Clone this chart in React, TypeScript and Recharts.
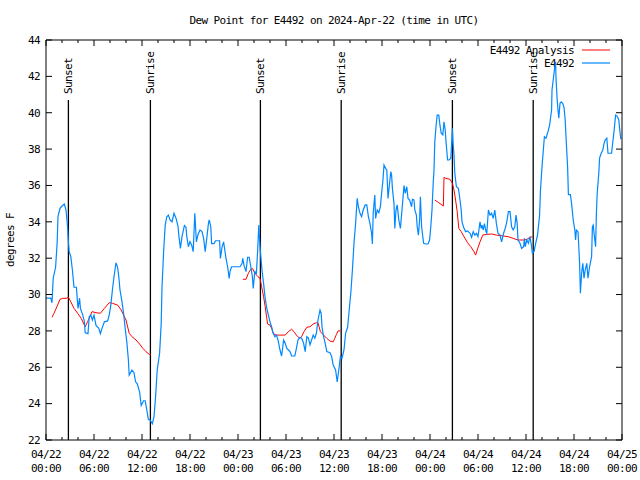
import { LineChart, Line, XAxis, YAxis, ReferenceLine, Label, Customized } from 'recharts'

// hours since 2024-04-22 00:00 UTC, dew point in °F
const stationHours = [
  0, 0.2, 0.6, 0.75, 0.9, 1.2, 1.4, 1.5, 1.75, 2, 2.3, 2.5, 2.7, 2.8, 2.9, 3.1, 3.3, 3.5, 3.8, 4, 4.2, 4.3, 4.6, 4.8, 4.9,
  5.25, 5.4, 5.6, 5.8, 6, 6.25, 6.6, 6.8, 7, 7.3, 7.7, 7.9, 8.1, 8.3, 8.5, 8.75, 8.95, 9.1, 9.25, 9.5, 9.7, 9.9, 10.1,
  10.3, 10.4, 10.75, 11, 11.2, 11.4, 11.7, 11.9, 12.2, 12.4, 12.6, 12.8, 13, 13.3, 13.5, 13.7, 13.9, 14.2, 14.4, 14.5,
  14.6, 14.7, 14.9, 15.1, 15.3, 15.5, 15.75, 16, 16.25, 16.5, 16.6, 16.8, 17, 17.3, 17.5, 17.6, 17.8,
  18, 18.2, 18.4, 18.6, 18.8, 19, 19.25, 19.5, 19.7, 19.9, 20.1, 20.3, 20.4, 20.6, 20.7, 21, 21.2, 21.7, 21.8, 22, 22.2,
  22.3, 22.5, 22.7, 22.9, 23, 23.2, 24.25, 24.5, 24.6, 24.75, 25, 25.2, 25.4, 25.6, 25.8, 25.9, 26.1, 26.3, 26.45, 26.6,
  26.7, 26.8, 27, 27.2, 27.4, 27.6, 27.8, 28, 28.2, 28.4, 28.6, 28.8, 29, 29.25, 29.45, 29.7, 29.9, 30.1, 30.3, 30.5,
  30.7, 31.1, 31.3, 31.5, 31.75, 31.95, 32.2, 32.4, 32.6, 32.8, 33, 33.2, 33.4, 33.6, 33.8, 34, 34.25, 34.4, 34.5, 34.7,
  34.9, 35.1, 35.5, 35.7, 35.9, 36.2, 36.4, 36.6, 36.8, 37, 37.25, 37.45, 37.7, 37.9, 38.1, 38.3, 38.5, 38.7, 38.9,
  39.05, 39.25, 39.45, 39.65, 39.9, 40.1, 40.3, 40.5, 40.7, 40.8, 40.9, 41.1, 41.2, 41.4, 41.6, 41.8, 41.95, 42.1,
  42.25, 42.45, 42.6, 42.75, 42.9, 43.1, 43.2, 43.3, 43.5, 43.6, 43.75, 43.9, 44.1, 44.3, 44.5, 44.75, 44.9, 45.1,
  45.25, 45.45, 45.7, 45.8, 46, 46.1, 46.3, 46.4, 46.55, 46.7, 46.8, 46.95, 47.2, 47.45, 47.75, 47.95, 48.1, 48.25,
  48.4, 48.5, 48.6, 48.75, 48.9, 49.1, 49.25, 49.4, 49.6, 49.75, 49.9, 50, 50.2, 50.4, 50.6, 50.7, 50.8, 50.9, 51,
  51.1, 51.3, 51.55, 51.7, 51.9, 52, 52.25, 52.45, 52.7, 53, 53.2, 53.4, 53.6, 53.8, 54, 54.25, 54.4, 54.5, 54.65,
  54.8, 55, 55.1, 55.3, 55.5, 55.7, 55.9, 56.1, 56.3, 56.5, 56.75, 56.95, 57.2, 57.4, 57.6, 57.8, 58, 58.2, 58.4,
  58.6, 58.75, 58.9, 59, 59.25, 59.45, 59.7, 59.8, 59.9, 60.1, 60.3, 60.5, 60.7, 60.8, 61, 61.25, 61.45, 61.7, 61.8,
  62, 62.2, 62.3, 62.5, 62.75, 62.95, 63.2, 63.25, 63.4, 63.6, 63.7, 63.75, 63.9, 64, 64.1, 64.25, 64.4, 64.6, 64.75,
  64.9, 65, 65.2, 65.3, 65.55, 65.7, 65.9, 66.1, 66.2, 66.3, 66.5, 66.6, 66.7, 66.8, 66.95, 67.1, 67.25, 67.4, 67.6,
  67.75, 67.95, 68.2, 68.3, 68.4, 68.55, 68.7, 68.8, 68.9, 69.1, 69.2, 69.4, 69.6, 69.75, 69.9, 70.1, 70.25, 70.7,
  70.8, 71, 71.2, 71.4, 71.6, 71.7, 71.85,
]
const stationDewF = [
  29.8, 29.8, 29.8, 29.55, 30.9, 31.5, 32.9, 34.3, 34.74, 34.87, 34.98, 34.65, 33.7, 32.9, 32.35, 32.1, 31.35, 30.4, 30.4, 29.24, 29.8, 29.24, 28.87, 28.5, 27.9,
  27.85, 28.78, 28.87, 28.6, 28.87, 28.3, 28.14, 27.85, 28.14, 28.5, 28.55, 28.87, 29.4, 30.25, 30.98, 31.75, 31.5, 30.98, 30.25, 29.6, 28.96, 28.14, 27.4,
  26.4, 25.57, 25.85, 25.7, 25.2, 25.1, 24.65, 23.9, 24.16, 24.16, 23.65, 23.13, 23.1, 22.9, 23.28, 24.4, 25.85, 26.77, 28.4, 30.4,
  31.35, 32.35, 33.82, 34.28, 34.37, 34.1, 34.0, 34.47, 34.2, 33.77, 33.27, 32.54, 33.18, 33.8, 33.7, 33.2, 32.63,
  32.91, 32.73, 32.36, 34.47, 32.9, 33.3, 33.55, 33.46, 33.1, 32.36, 33.1, 33.9, 34.1, 33.73, 32.8, 32.8, 32.96, 32.96, 31.99, 32.6, 32.9,
  32.6, 31.99, 31.53, 30.89, 31.26, 31.53, 31.53, 31.7, 31.99, 31.6, 31.26, 32.05, 32.05, 31.53, 30.98, 30.34, 31.26, 31.17, 32.36, 33.82,
  33.0, 32.36, 31.35, 30.6, 29.79, 29.24, 28.87, 28.5, 28.23, 27.87, 27.68, 27.77, 27.5, 26.95, 26.62, 27.5, 27.32, 27.04, 26.95, 26.86,
  26.62, 26.62, 27.04, 27.5, 27.65, 27.6, 27.32, 26.86, 27.68, 27.6, 27.23, 27.5, 27.77, 27.6, 27.87, 28.6, 29.15, 28.96, 28.23, 27.68,
  27.32, 26.86, 26.8, 26.6, 26.12, 25.85, 25.2, 25.85, 26.6, 26.5, 26.95, 27.87, 28.2, 29.15, 30.07, 31.35, 32.82, 33.9, 35.29,
  34.83, 34.47, 34.28, 34.65, 34.93, 34.93, 34.28, 33.9, 33.37, 32.78, 34.47, 35.47, 34.19, 34.65, 34.5, 34.83, 35.57, 36.2,
  37.12, 36.94, 36.85, 35.29, 35.93, 36.76, 36.57, 35.84, 35.0, 33.64, 34.65, 34.93, 34.1, 33.64, 34.65, 36.0, 35.57, 35.93,
  35.29, 35.2, 34.83, 35.24, 35.2, 34.65, 34.37, 33.73, 33.27, 34.1, 35.38, 33.73, 32.82, 32.78, 32.78, 33.0, 33.73, 34.65,
  36.12, 36.85, 38.41, 39.23, 39.87, 39.87, 39.3, 38.87, 38.78, 39.5, 39.05, 38.41, 37.4, 37.4, 37.5, 38.3, 39.14, 38.22, 37.67,
  36.67, 35.93, 35.84, 35.38, 34.65, 34.0, 33.64, 33.46, 33.5, 33.37, 33.15, 33.46, 33.27, 33.37, 33.18, 34.0, 33.64, 33.82, 33.55,
  33.9, 33.46, 33.37, 34.65, 34.37, 34.47, 34.19, 34.65, 33.9, 33.37, 33.27, 32.9, 33.37, 33.64, 34.0, 34.56, 34.56, 33.73, 33.55,
  33.73, 34.37, 33.9, 33.0, 32.82, 32.54, 32.63, 33.1, 32.63, 33.0, 32.82, 33.18, 32.63, 32.27, 32.36, 32.9, 33.3, 34.37, 35.66,
  37.03, 38.13, 38.68, 38.6, 38.96, 39.32, 40.15, 41.25, 41.8, 42.53, 42.8, 41.9, 40.7, 40.15, 39.7, 40.52, 40.6, 40.5, 40.3,
  39.6, 38.68, 37.03, 35.5, 35.5, 35.0, 34.1, 33.55, 33.0, 33.55, 33.46, 32.63, 31.72, 30.07, 31.17, 31.72, 30.9, 31.35, 31.72,
  30.9, 31.53, 32.08, 33.73, 33.82, 33.18, 32.63, 34.47, 35.57, 36.67, 37.5, 37.77, 37.95, 38.3, 38.5, 38.6, 37.77, 37.77,
  38.2, 38.96, 39.87, 39.8, 39.6, 39.14, 38.54,
]

// analysis series; null marks the gaps between daytime runs
const analysisHours = [
  0.75, 1, 1.45, 1.75, 2.1, 2.5, 2.8, 3.1, 3.5, 3.96, 4.4, 4.8, 4.9, 5.2, 5.4, 5.75, 6.25, 6.8, 7.3, 7.9, 8.3, 8.96,
  9.4, 9.7, 10, 10.4, 10.75, 11.25, 11.7, 12.1, 12.5, 12.9, 13.1,
  18,
  24.6, 25, 25.3, 25.6, 25.8, 26, 26.3, 26.5, 26.75, 26.96, 27.2, 27.4, 27.6, 27.7, 28, 28.2, 28.4, 28.75, 29.25, 29.9,
  30.3, 30.7, 31, 31.3, 31.7, 31.95, 32.25, 32.6, 33, 33.4, 33.8, 34, 34.3, 34.7, 35.1, 35.5, 35.9, 36.1, 36.3, 36.5, 36.8,
  42,
  48.6, 49.1, 49.67, 49.75, 49.96, 50.5, 50.8, 51, 51.2, 51.4, 51.6, 51.9, 52.25, 52.7, 53.1, 53.5, 53.7, 53.9, 54.25,
  54.6, 55.1, 55.7, 56.3, 57.2, 57.8, 58.4, 59, 59.7, 60.1, 60.5, 60.8,
]
const analysisDewF = [
  28.75, 28.97, 29.42, 29.74, 29.79, 29.79, 29.85, 29.6, 29.24, 28.97, 28.69, 28.32, 28.23, 28.51, 28.69, 29.06, 29.0, 28.97, 29.24, 29.55, 29.52, 29.42,
  29.15, 28.87, 28.6, 27.87, 27.68, 27.5, 27.28, 27.04, 26.86, 26.71, 26.71,
  null,
  30.84, 30.84, 31.17, 31.39, 31.44, 31.26, 31.07, 30.98, 30.89, 30.43, 29.88, 29.33, 28.69, 28.38, 28.32, 28.14, 27.87, 27.77, 27.77, 27.77,
  27.96, 28.09, 27.96, 27.77, 27.59, 27.68, 27.96, 28.2, 28.23, 28.38, 28.45, 28.45, 27.96, 27.77, 27.59, 27.44, 27.4, 27.6, 27.8, 28.0, 28.0,
  null,
  35.2, 35.05, 34.87, 36.45, 36.39, 36.34, 36.12, 35.75, 35.2, 34.56, 33.64, 33.46, 33.18, 32.85, 32.63, 32.36, 32.17, 32.45, 32.9,
  33.27, 33.31, 33.33, 33.27, 33.22, 33.18, 33.09, 33.0, 33.0, 33.03, 33.15, 33.18,
]

const sunHours = [2.8, 13.05, 26.8, 36.9, 50.8, 60.9]
const sunLabels = ['Sunset', 'Sunrise', 'Sunset', 'Sunrise', 'Sunset', 'Sunrise']

const xTicks = Array.from({ length: 37 }, (_, i) => i * 2)
const yTicks = [22, 24, 26, 28, 30, 32, 34, 36, 38, 40, 42, 44]

const FONT = '"DejaVu Sans Mono", "Liberation Mono", monospace'
const txt = { fontFamily: FONT, fontSize: 11, letterSpacing: -0.6, fill: '#000' }

const stationData = stationHours.map((h, i) => ({ h, v: stationDewF[i] }))
const analysisData = analysisHours.map((h, i) => ({ h, v: analysisDewF[i] }))

function hourLabel(h: number) {
  const day = 22 + Math.floor(h / 24)
  const hh = String(h % 24).padStart(2, '0')
  return [`04/${day}`, `${hh}:00`]
}

function BottomTick({ x, y, payload }: any) {
  const h = payload.value
  const major = h % 6 === 0
  const [d, t] = hourLabel(h)
  return (
    <g>
      <line x1={x} x2={x} y1={y} y2={y - (major ? 6 : 3)} stroke="#000" />
      {major && (
        <text x={x} y={y + 18} textAnchor="middle" {...txt}>
          <tspan x={x}>{d}</tspan>
          <tspan x={x} dy={14}>{t}</tspan>
        </text>
      )}
    </g>
  )
}

function TopTick({ x, y, payload }: any) {
  const major = payload.value % 6 === 0
  return <line x1={x} x2={x} y1={y} y2={y + (major ? 6 : 3)} stroke="#000" />
}

function LeftTick({ x, y, payload }: any) {
  return (
    <g>
      <line x1={x} x2={x + 6} y1={y} y2={y} stroke="#000" />
      <text x={x - 6} y={y} dy="0.35em" textAnchor="end" {...txt}>{payload.value}</text>
    </g>
  )
}

function RightTick({ x, y }: any) {
  return <line x1={x - 6} x2={x} y1={y} y2={y} stroke="#000" />
}

function sunLabel(text: string) {
  return (props: any) => {
    const vb = props.viewBox
    const x = vb.x + 4
    const y = vb.y - 6
    return <text x={x} y={y} transform={`rotate(-90 ${x} ${y})`} {...txt}>{text}</text>
  }
}

function Decor() {
  return (
    <g>
      <text x={334} y={24} textAnchor="middle" {...txt}>Dew Point for E4492 on 2024-Apr-22 (time in UTC)</text>
      <text x={14} y={240} textAnchor="middle" transform="rotate(-90 14 240)" {...txt}>degrees F</text>
      <text x={574} y={50} dy="0.35em" textAnchor="end" {...txt}>E4492 Analysis</text>
      <line x1={582} x2={610} y1={50} y2={50} stroke="#ff0000" strokeWidth={1} />
      <text x={574} y={63} dy="0.35em" textAnchor="end" {...txt}>E4492</text>
      <line x1={582} x2={610} y1={63} y2={63} stroke="#0088ff" strokeWidth={1.2} />
    </g>
  )
}

export default function App() {
  return (
    <div style={{ position: 'absolute', left: 0, top: 0, background: '#fff' }}>
      <LineChart width={640} height={480} margin={{ top: 10, right: 0, bottom: 0, left: 0 }}>
        <XAxis xAxisId="b" dataKey="h" type="number" domain={[0, 72]} ticks={xTicks} interval={0}
          orientation="bottom" height={40} tickSize={0} tickMargin={0} tickLine={false}
          axisLine={{ stroke: '#000' }} tick={<BottomTick />} allowDataOverflow />
        <XAxis xAxisId="t" dataKey="h" type="number" domain={[0, 72]} ticks={xTicks} interval={0}
          orientation="top" height={30} tickSize={0} tickMargin={0} tickLine={false}
          axisLine={{ stroke: '#000' }} tick={<TopTick />} allowDataOverflow />
        <YAxis yAxisId="l" type="number" domain={[22, 44]} ticks={yTicks} interval={0} width={46}
          tickSize={0} tickMargin={0} tickLine={false} axisLine={{ stroke: '#000' }} tick={<LeftTick />} allowDataOverflow />
        <YAxis yAxisId="r" orientation="right" type="number" domain={[22, 44]} ticks={yTicks} interval={0} width={18}
          tickSize={0} tickMargin={0} tickLine={false} axisLine={{ stroke: '#000' }} tick={<RightTick />} allowDataOverflow />

        {sunHours.map((h, i) => (
          <ReferenceLine key={i} xAxisId="b" yAxisId="l" segment={[{ x: h, y: 40.7 }, { x: h, y: 22 }]}
            stroke="#000" strokeWidth={1.3}>
            <Label content={sunLabel(sunLabels[i])} />
          </ReferenceLine>
        ))}

        <Line xAxisId="b" yAxisId="l" data={analysisData} dataKey="v" stroke="#ff0000" strokeWidth={1}
          dot={false} isAnimationActive={false} connectNulls={false} />
        <Line xAxisId="b" yAxisId="l" data={stationData} dataKey="v" stroke="#0088ff" strokeWidth={1.2}
          dot={false} isAnimationActive={false} />

        <Customized component={<Decor />} />
      </LineChart>
    </div>
  )
}
